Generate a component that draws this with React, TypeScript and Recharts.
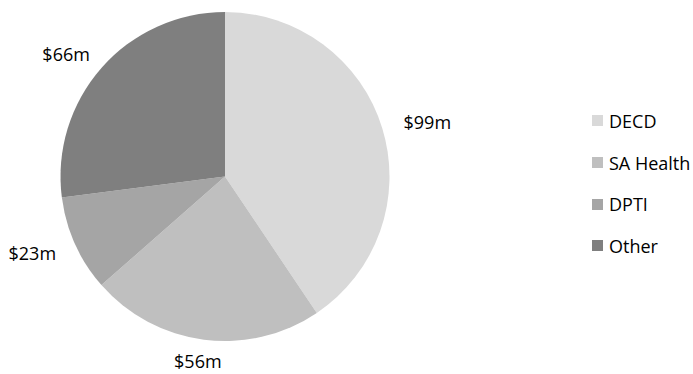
import React from 'react'
import { PieChart, Pie, Cell, Legend } from 'recharts';

const agencies = ['DECD', 'SA Health', 'DPTI', 'Other'];
const spend = [99, 56, 23, 66];
const labels = ['$99m', '$56m', '$23m', '$66m'];
const colors = ['#d9d9d9', '#bfbfbf', '#a5a5a5', '#7f7f7f'];

const chartData = agencies.map((name, i) => ({ name, value: spend[i], label: labels[i] }));

const RAD = Math.PI / 180;
const FONT = '"Open Sans", sans-serif';

const renderLabel = (props: any) => {
    const { cx, cy, midAngle, outerRadius, index } = props;
    const cos = Math.cos(-midAngle * RAD);
    const sin = Math.sin(-midAngle * RAD);
    // push label box outside the slice, roughly like excel's "outside end"
    const x = cx + (outerRadius + 20) * cos + cos * 27;
    const y = cy + (outerRadius + 21.5) * sin;
    return (
        <text x={x} y={y} textAnchor="middle" dominantBaseline="central"
            fontFamily={FONT} fontSize={18} fill="#000">
            {labels[index]}
        </text>
    );
};

// own legend so the order stays as in the data
const renderLegend = () => (
    <div style={{ fontFamily: FONT, fontSize: 18, color: '#000' }}>
        {agencies.map((name, i) => (
            <div key={name} style={{ height: 41.7, display: 'flex', alignItems: 'center' }}>
                <span style={{ width: 11, height: 11, background: colors[i], display: 'inline-block', marginRight: 6 }} />
                <span>{name}</span>
            </div>
        ))}
    </div>
);

const App: React.FunctionComponent = () => {
    return (
        <div style={{ position: 'fixed', left: 0, top: 0, background: '#fff' }}>
            <PieChart width={693} height={374} margin={{ top: 0, right: 0, bottom: 0, left: 0 }}>
                <Pie data={chartData} dataKey="value" nameKey="name" cx={225} cy={176.5}
                    outerRadius={164.5} startAngle={90} endAngle={-270} stroke="none"
                    label={renderLabel} labelLine={false} isAnimationActive={false}>
                    {chartData.map((d, i) => (
                        <Cell key={d.name} fill={colors[i]} />
                    ))}
                </Pie>
                <Legend content={renderLegend} layout="vertical"
                    wrapperStyle={{ left: 592, top: 100, width: 100 }} />
            </PieChart>
        </div>
    );
};

export default App;
